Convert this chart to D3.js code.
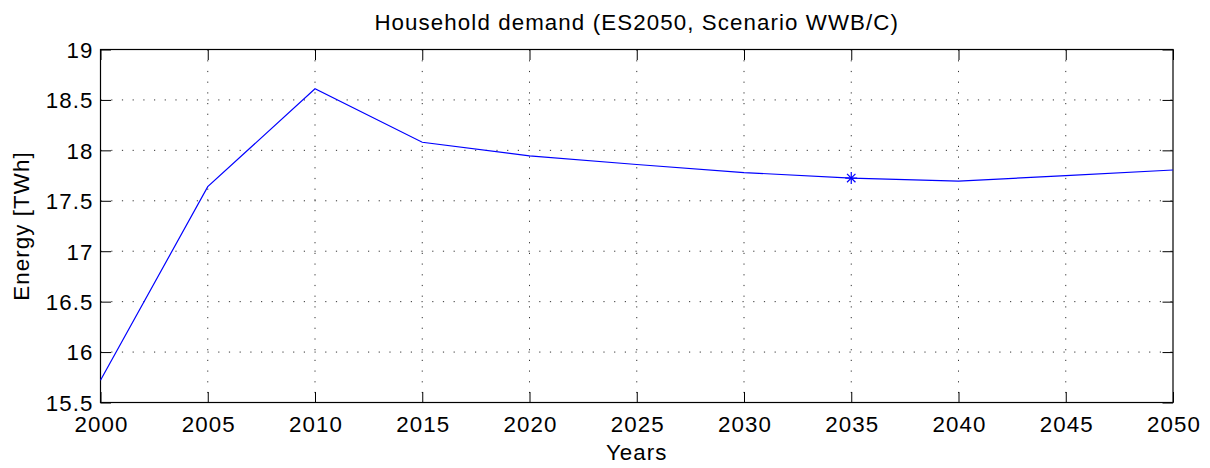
<!DOCTYPE html>
<html><head><meta charset="utf-8">
<script src="https://cdn.jsdelivr.net/npm/d3@7"></script>
<style>body{margin:0;background:#fff}svg{display:block}text{font-family:"Liberation Sans",Arial,sans-serif}</style>
</head><body><svg id="c" width="1210" height="468"></svg>
<script>
const years = [2000,2005,2010,2015,2020,2025,2030,2035,2040,2045,2050];
const energy = [15.72,17.64,18.61,18.08,17.945,17.86,17.78,17.725,17.695,17.75,17.805];
const markerYears = [2035];
const xTicks = [2000,2005,2010,2015,2020,2025,2030,2035,2040,2045,2050];
const yTicks = [15.5,16,16.5,17,17.5,18,18.5,19];
const titleText = "Household demand (ES2050, Scenario WWB/C)";
const xLabel = "Years", yLabel = "Energy [TWh]";

const L=100.5,R=1173,T=49.5,B=402.5;
const FS=22.3, LS=1.1;
const svg=d3.select("#c");
const x=d3.scaleLinear().domain([2000,2050]).range([L,R]);
const y=d3.scaleLinear().domain([15.5,19]).range([B,T]);

// grid
const g=svg.append("g");
g.selectAll(".gx").data(xTicks.slice(1,-1)).enter().append("line")
 .attr("x1",d=>x(d)).attr("x2",d=>x(d)).attr("y1",T).attr("y2",B)
 .attr("stroke","#333").attr("stroke-width",1).attr("stroke-dasharray","1.2,9.5");
g.selectAll(".gy").data(yTicks.slice(1,-1)).enter().append("line")
 .attr("y1",d=>y(d)).attr("y2",d=>y(d)).attr("x1",L).attr("x2",R)
 .attr("stroke","#333").attr("stroke-width",1).attr("stroke-dasharray","1.2,9.5");

// axes with inward ticks
const ax=svg.append("g").attr("transform",`translate(0,${B})`).call(d3.axisBottom(x).tickValues(xTicks).tickFormat(d3.format("d")).tickSizeInner(-10.5).tickSizeOuter(0));
const axt=svg.append("g").attr("transform",`translate(0,${T})`).call(d3.axisTop(x).tickValues(xTicks).tickFormat("").tickSizeInner(-10.5).tickSizeOuter(0));
const ay=svg.append("g").attr("transform",`translate(${L},0)`).call(d3.axisLeft(y).tickValues(yTicks).tickFormat(d=>d3.format("")(d)).tickSizeInner(-10.5).tickSizeOuter(0));
const ayr=svg.append("g").attr("transform",`translate(${R},0)`).call(d3.axisRight(y).tickValues(yTicks).tickFormat("").tickSizeInner(-10.5).tickSizeOuter(0));
[ax,axt,ay,ayr].forEach(a=>{a.attr("font-size",FS).attr("font-family","Liberation Sans, Arial, sans-serif");a.select(".domain").remove();a.selectAll("line").attr("stroke","#000");a.selectAll("text").attr("font-size",FS).attr("fill","#000").attr("letter-spacing",LS);});
ax.selectAll("text").attr("y",29.2).attr("dy",null).attr("dx",LS/2);
ay.selectAll("text").attr("x",-7).attr("dy","0.355em");
svg.append("rect").attr("x",L).attr("y",T).attr("width",R-L).attr("height",B-T).attr("fill","none").attr("stroke","#000").attr("stroke-width",1.2);

// line
const pts=years.map((d,i)=>[d,energy[i]]);
svg.append("path").datum(pts).attr("fill","none").attr("stroke","#0000ff").attr("stroke-width",1.2)
 .attr("d",d3.line().x(d=>x(d[0])).y(d=>y(d[1])));
// marker (asterisk)
const mk=svg.append("g");
markerYears.forEach(yr=>{
 const v=energy[years.indexOf(yr)], cx=x(yr), cy=y(v), r=6;
 [[0,-r,0,r],[-r,0,r,0],[-r*0.7,-r*0.7,r*0.7,r*0.7],[-r*0.7,r*0.7,r*0.7,-r*0.7]].forEach(s=>{
  mk.append("line").attr("x1",cx+s[0]).attr("y1",cy+s[1]).attr("x2",cx+s[2]).attr("y2",cy+s[3]).attr("stroke","#0000ff").attr("stroke-width",1.2);
 });
});

svg.append("text").attr("x",(L+R)/2).attr("y",29.5).attr("text-anchor","middle").attr("font-size",FS).attr("letter-spacing",LS).text(titleText);
svg.append("text").attr("x",(L+R)/2).attr("y",460).attr("text-anchor","middle").attr("font-size",FS).attr("letter-spacing",LS).text(xLabel);
svg.append("text").attr("transform",`translate(29,${(T+B)/2}) rotate(-90)`).attr("text-anchor","middle").attr("font-size",FS).attr("letter-spacing",LS).text(yLabel);
</script></body></html>
